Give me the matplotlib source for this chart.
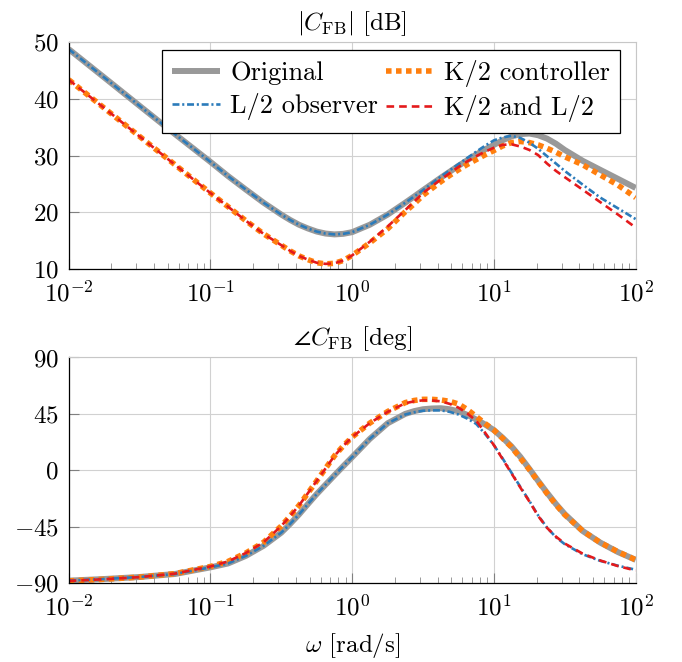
import matplotlib
matplotlib.use('Agg')
import matplotlib.pyplot as plt

# frequency grid (rad/s) (1/8 decade, 1/16 near the bends)
omega = [0.01, 0.0178, 0.0316, 0.0562, 0.1, 0.133, 0.178, 0.237, 0.316, 0.365,
         0.422, 0.487, 0.562, 0.649, 0.750, 0.866, 1.0, 1.33, 1.78, 2.37,
         2.74, 3.16, 3.65, 4.22, 4.87, 5.62, 6.49, 7.50, 8.66, 10.0,
         11.5, 13.3, 15.4, 17.8, 20.5, 23.7, 27.4, 31.6, 42.2, 56.2,
         75.0, 100.0]

# magnitude [dB]
mag_original = [48.8, 43.8, 38.8, 33.8, 28.9, 26.4, 24.0, 21.7, 19.6, 18.65,
                17.8, 17.15, 16.6, 16.25, 16.1, 16.2, 16.5, 17.8, 19.6, 21.7,
                22.8, 23.9, 25.0, 26.1, 27.15, 28.2, 29.2, 30.2, 31.1, 31.9,
                32.7, 33.4, 33.8, 33.9, 33.6, 33.0, 32.1, 31.0, 29.1, 27.5,
                25.9, 24.3]
mag_k2 = [43.4, 38.4, 33.4, 28.4, 23.4, 21.0, 18.5, 16.2, 14.2, 13.2,
          12.3, 11.65, 11.1, 10.9, 11.0, 11.5, 12.4, 14.6, 17.1, 20.1,
          21.5, 23.0, 24.2, 25.4, 26.5, 27.5, 28.45, 29.3, 30.15, 30.9,
          31.7, 32.3, 32.5, 32.3, 31.9, 31.3, 30.6, 29.8, 28.4, 26.6,
          24.8, 22.6]
mag_l2 = [48.8, 43.8, 38.8, 33.8, 28.9, 26.4, 24.0, 21.7, 19.6, 18.65,
          17.8, 17.15, 16.6, 16.25, 16.1, 16.2, 16.5, 17.8, 19.6, 21.7,
          22.8, 23.9, 25.1, 26.3, 27.4, 28.5, 29.6, 30.7, 31.75, 32.7,
          33.2, 33.5, 33.1, 32.3, 31.2, 29.9, 28.6, 27.3, 24.9, 22.6,
          20.7, 18.8]
mag_k2l2 = [43.4, 38.4, 33.4, 28.4, 23.4, 21.0, 18.5, 16.2, 14.2, 13.2,
            12.3, 11.65, 11.1, 10.9, 11.0, 11.5, 12.4, 14.8, 17.5, 20.4,
            21.9, 23.4, 24.6, 25.8, 26.9, 28.0, 29.0, 29.9, 30.7, 31.4,
            31.9, 32.0, 31.6, 31.0, 30.1, 28.6, 27.3, 26.2, 24.0, 21.8,
            19.6, 17.3]

# phase [deg]
ph_original = [-88.1, -86.8, -85.2, -82.8, -77.5, -74.4, -68.3, -60.3, -49.8, -42.8,
               -35.2, -27.0, -19.0, -11.5, -4.0, 3.3, 10.5, 25.0, 37.5, 45.0,
               47.2, 48.7, 49.3, 49.5, 48.7, 47.0, 44.2, 40.5, 36.5, 32.0,
               26.0, 19.0, 10.5, 1.0, -8.5, -18.0, -27.0, -35.0, -48.4, -57.7,
               -65.3, -71.5]
ph_k2 = [-88.3, -87.0, -85.3, -82.5, -76.8, -72.8, -66.0, -57.5, -44.5, -36.5,
         -28.0, -18.3, -8.5, 1.5, 11.5, 19.5, 26.5, 37.6, 46.9, 54.0,
         55.7, 56.6, 56.6, 56.1, 55.0, 52.9, 48.5, 42.9, 37.3, 32.0,
         25.5, 18.5, 9.5, 0.5, -9.0, -18.5, -27.5, -35.5, -48.4, -57.7,
         -65.1, -71.5]
ph_l2 = [-88.1, -86.8, -85.2, -82.8, -77.5, -74.4, -68.3, -60.3, -49.8, -42.8,
         -35.2, -27.0, -19.0, -11.5, -4.0, 3.3, 10.5, 25.0, 37.5, 44.5,
         46.3, 47.5, 47.8, 47.8, 46.6, 44.5, 41.2, 37.0, 29.0, 20.0,
         9.5, -2.0, -13.5, -24.6, -36.0, -45.8, -53.5, -59.0, -67.0, -72.3,
         -76.2, -79.4]
ph_k2l2 = [-88.3, -87.0, -85.3, -82.5, -76.8, -72.8, -66.0, -57.5, -44.5, -36.5,
           -28.0, -18.3, -8.5, 1.5, 11.5, 19.5, 26.5, 37.6, 46.6, 53.5,
           55.0, 55.8, 55.7, 55.0, 53.0, 50.0, 45.3, 39.5, 30.0, 20.0,
           9.0, -2.5, -14.0, -25.0, -36.5, -46.0, -53.0, -58.5, -66.5, -72.0,
           -76.5, -80.0]

labels = ['Original', 'K/2 controller', 'L/2 observer', 'K/2 and L/2']

plt.rcParams['font.family'] = ['cmr10', 'DejaVu Serif']
plt.rcParams['mathtext.fontset'] = 'cm'
plt.rcParams['axes.formatter.use_mathtext'] = True
plt.rcParams['font.size'] = 18
plt.rcParams['lines.scale_dashes'] = False


def draw(ax, ys):
    h1, = ax.plot(omega, ys[0], color='#999999', lw=4.3, solid_capstyle='butt',
                  solid_joinstyle='round', label=labels[0])
    h2, = ax.plot(omega, ys[1], color='#ff7f0e', lw=4.0, dashes=(4.0, 3.2),
                  dash_capstyle='butt', label=labels[1])
    h3, = ax.plot(omega, ys[2], color='#2b7bba', lw=1.9, dashes=(5.0, 2.0, 1.5, 2.0),
                  label=labels[2])
    h4, = ax.plot(omega, ys[3], color='#e41a1c', lw=1.9, dashes=(5.5, 3.6), label=labels[3])
    ax.set_xscale('log')
    ax.set_xlim(0.01, 100)
    ax.grid(True, which='major', color='0.82', lw=0.8)
    ax.set_axisbelow(True)
    for s in ['top', 'right']:
        ax.spines[s].set_color('0.78')
        ax.spines[s].set_linewidth(0.8)
    for s in ['left', 'bottom']:
        ax.spines[s].set_color('black')
        ax.spines[s].set_linewidth(0.9)
    ax.tick_params(which='major', direction='in', length=7, width=0.8, color='0.5', pad=7)
    ax.tick_params(axis='x', which='minor', direction='in', length=4, width=0.7, color='0.6')
    ax.tick_params(axis='y', which='minor', left=False)
    ax.tick_params(axis='x', pad=8)
    return [h1, h2, h3, h4]


fig = plt.figure(figsize=(6.82, 6.62), dpi=100)
ax1 = fig.add_axes([0.1007, 0.5937, 0.8314, 0.3424])
ax2 = fig.add_axes([0.1007, 0.1193, 0.8314, 0.3407])

hs = draw(ax1, [mag_original, mag_k2, mag_l2, mag_k2l2])
ax1.set_ylim(10, 50)
ax1.set_yticks([10, 20, 30, 40, 50])
ax1.set_title(r'$|C_{\mathrm{FB}}|$ [dB]', fontsize=18, pad=9)
leg = ax1.legend([hs[0], hs[2], hs[1], hs[3]], [labels[0], labels[2], labels[1], labels[3]],
                 ncol=2, loc='upper right', bbox_to_anchor=(0.972, 0.966), borderaxespad=0,
                 fontsize=19, fancybox=False, framealpha=1, edgecolor='black',
                 handlelength=1.8, handletextpad=0.4, columnspacing=0.3,
                 labelspacing=0.32, borderpad=0.38)
leg.get_frame().set_linewidth(0.9)

draw(ax2, [ph_original, ph_k2, ph_l2, ph_k2l2])
ax2.set_ylim(-90, 90)
ax2.set_yticks([-90, -45, 0, 45, 90])
ax2.set_title(r'$\angle C_{\mathrm{FB}}$ [deg]', fontsize=18, pad=9)
ax2.set_xlabel(r'$\omega$ [rad/s]', fontsize=18, labelpad=8)

fig.savefig('out.png', dpi=100)
